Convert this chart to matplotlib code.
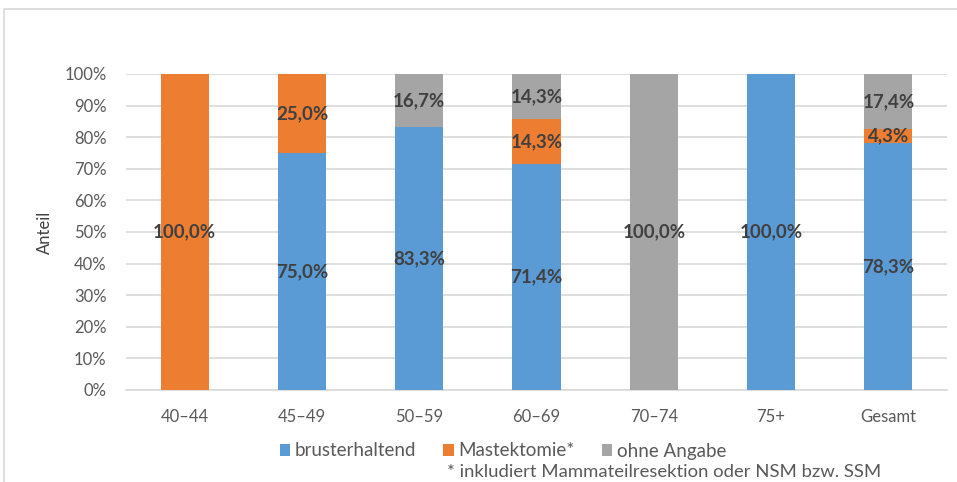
import matplotlib.pyplot as plt
import matplotlib.patches as mpatches
import numpy as np

plt.rcParams['font.family'] = ['Lato', 'DejaVu Sans']

kategorien = ['40–44', '45–49', '50–59', '60–69', '70–74', '75+', 'Gesamt']
brusterhaltend = [0.0, 75.0, 83.3, 71.4, 0.0, 100.0, 78.3]
mastektomie = [100.0, 25.0, 0.0, 14.3, 0.0, 0.0, 4.3]
ohne_angabe = [0.0, 0.0, 16.7, 14.3, 100.0, 0.0, 17.4]

serien = [('brusterhaltend', brusterhaltend, '#5B9BD5'),
          ('Mastektomie*', mastektomie, '#ED7D31'),
          ('ohne Angabe', ohne_angabe, '#A5A5A5')]

fig = plt.figure(figsize=(9.57, 4.82), dpi=100)
ax = fig.add_axes([126 / 957, 1 - 390 / 482, 821 / 957, 316 / 482])

# Rahmen um das Diagramm
fig.patches.append(mpatches.Rectangle((4 / 957, -0.1), 1.2, 1 - 9 / 482 + 0.1,
                                      transform=fig.transFigure, fill=False,
                                      edgecolor='#D9D9D9', linewidth=1.2))

x = np.arange(len(kategorien))
unten = np.zeros(len(kategorien))
for name, werte, farbe in serien:
    werte = np.array(werte)
    ax.bar(x, werte, 0.41, bottom=unten, color=farbe, label=name, zorder=3)
    for xi, b, w in zip(x, unten, werte):
        if w > 0:
            ax.text(xi, b + w / 2, f'{w:.1f}%'.replace('.', ','), ha='center', va='center',
                    fontsize=13.5, fontweight='bold', color='#404040', zorder=4)
    unten += werte

ax.set_xlim(-0.5, len(kategorien) - 0.5)
ax.set_ylim(0, 100)
ax.set_yticks(np.arange(0, 101, 10))
ax.set_yticklabels([f'{v}%' for v in range(0, 101, 10)])
ax.set_xticks(x)
ax.set_xticklabels(kategorien)
ax.tick_params(length=0, labelsize=12, labelcolor='#595959')
ax.tick_params(axis='x', pad=14)
ax.tick_params(axis='y', pad=14)
ax.grid(axis='y', color='#D9D9D9', linewidth=1.2, zorder=0)
for s in ['top', 'right', 'left']:
    ax.spines[s].set_visible(False)
ax.spines['bottom'].set_color('#D9D9D9')
ax.spines['bottom'].set_linewidth(1.2)
ax.set_ylabel('Anteil', fontsize=12, color='#404040', labelpad=8)

ax.legend(loc='center', bbox_to_anchor=(503 / 957, 1 - 451 / 482),
          bbox_transform=fig.transFigure, ncol=3, frameon=False, fontsize=13.5,
          labelcolor='#595959', handlelength=0.55, handleheight=0.55,
          handletextpad=0.25, columnspacing=1.45)
fig.text(447 / 957, 1 - 472 / 482, '* inkludiert Mammateilresektion oder NSM bzw. SSM',
         fontsize=13.3, color='#595959', va='center')

fig.savefig('out.png', dpi=100)
